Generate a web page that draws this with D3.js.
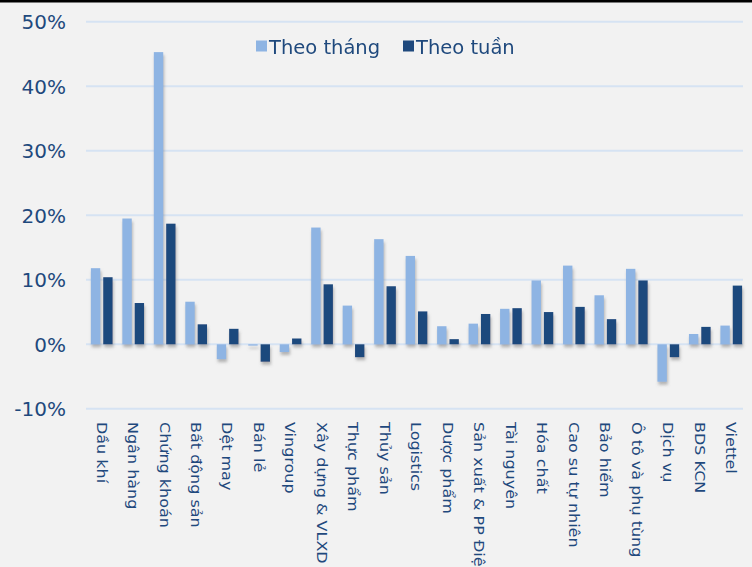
<!DOCTYPE html>
<html>
<head>
<meta charset="utf-8">
<script src="https://cdn.jsdelivr.net/npm/d3@7"></script>
<style>
  html, body { margin: 0; padding: 0; background: #f2f2f2; }
  svg { display: block; }
  text { font-family: "DejaVu Sans", sans-serif; fill: #1f497d; }
</style>
</head>
<body>
<svg id="chart" width="752" height="567"></svg>
<script>
// Sector returns (%), monthly vs weekly
const categories = [
  "Dầu khí", "Ngân hàng", "Chứng khoán", "Bất động sản", "Dệt may", "Bán lẻ",
  "Vingroup", "Xây dựng & VLXD", "Thực phẩm", "Thủy sản", "Logistics",
  "Dược phẩm", "Sản xuất & PP Điện", "Tài nguyên", "Hóa chất",
  "Cao su tự nhiên", "Bảo hiểm", "Ô tô và phụ tùng", "Dịch vụ", "BDS KCN", "Viettel"
];
const seriesNames = ["Theo tháng", "Theo tuần"];
const theoThang = [11.8, 19.5, 45.3, 6.6, -2.3, -0.2, -1.2, 18.1, 6.0, 16.3, 13.7,
                   2.8, 3.2, 5.5, 9.9, 12.2, 7.6, 11.7, -5.8, 1.6, 2.9];
const theoTuan  = [10.4, 6.4, 18.7, 3.1, 2.4, -2.7, 0.9, 9.3, -2.0, 9.0, 5.1,
                   0.8, 4.7, 5.6, 5.0, 5.8, 3.9, 9.9, -2.0, 2.7, 9.1];
const yTicks = [-10, 0, 10, 20, 30, 40, 50];

const colors = ["#8eb4e3", "#1f497d"];
const svg = d3.select("#chart");

// top border strip
svg.append("rect").attr("x", 0).attr("y", 0).attr("width", 752).attr("height", 2.5).attr("fill", "#000");

// soft shadow under the bars
const defs = svg.append("defs");
const f = defs.append("filter").attr("id", "shadow")
  .attr("x", "-30%").attr("y", "-10%").attr("width", "170%").attr("height", "130%");
f.append("feDropShadow").attr("dx", 1).attr("dy", 3).attr("stdDeviation", 1.6)
  .attr("flood-color", "#7f7f7f").attr("flood-opacity", 0.55);

const gridLeft = 86, gridRight = 743;
const y = d3.scaleLinear().domain([-10, 50]).range([408.8, 21.8]);
const x0 = d3.scaleBand().domain(categories).range([86, 747])
  .paddingInner(0.31).paddingOuter(0.155);
const x1 = d3.scaleBand().domain(seriesNames).range([0, x0.bandwidth()])
  .paddingInner(0.24);

// horizontal gridlines
svg.append("g").selectAll("line").data(yTicks).join("line")
  .attr("x1", gridLeft).attr("x2", gridRight)
  .attr("y1", d => y(d)).attr("y2", d => y(d))
  .attr("stroke", "#d6e3f3").attr("stroke-width", 2);

// y-axis labels
svg.append("g").selectAll("text").data(yTicks).join("text")
  .attr("x", 66).attr("y", d => y(d)).attr("dy", "0.36em")
  .attr("text-anchor", "end").attr("font-size", 20)
  .text(d => d + "%");

// bars
const rows = categories.map((c, i) => ({ c, vals: [theoThang[i], theoTuan[i]] }));
const groups = svg.append("g").attr("filter", "url(#shadow)")
  .selectAll("g").data(rows).join("g")
  .attr("transform", d => `translate(${x0(d.c)},0)`);
groups.selectAll("rect").data(d => d.vals.map((v, k) => ({ k, v })))
  .join("rect")
  .attr("x", d => x1(seriesNames[d.k]))
  .attr("width", x1.bandwidth())
  .attr("y", d => y(Math.max(0, d.v)))
  .attr("height", d => Math.abs(y(d.v) - y(0)))
  .attr("fill", d => colors[d.k]);

// category labels, rotated to read downward
svg.append("g").selectAll("text").data(categories).join("text")
  .attr("transform", d => `translate(${x0(d) + x0.bandwidth() / 2},422) rotate(90) scale(1,0.9)`)
  .attr("dy", "0.36em")
  .attr("font-size", 16)
  .text(d => d);

// legend
const legend = svg.append("g");
const legendX = [256, 403];
seriesNames.forEach((name, i) => {
  legend.append("rect").attr("x", legendX[i]).attr("y", 40.5)
    .attr("width", 11).attr("height", 11).attr("fill", colors[i]);
  legend.append("text").attr("x", legendX[i] + 13).attr("y", 54)
    .attr("font-size", 19.5).text(name);
});
</script>
</body>
</html>
